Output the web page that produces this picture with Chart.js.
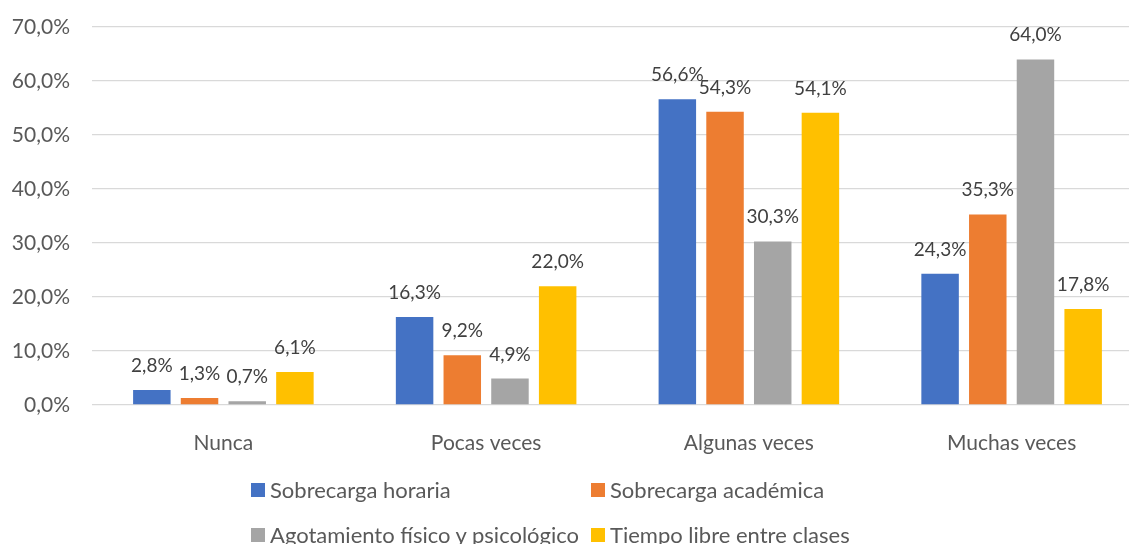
<!DOCTYPE html>
<html>
<head>
<meta charset="utf-8">
<script src="https://cdn.jsdelivr.net/npm/chart.js@4.4.1/dist/chart.umd.min.js"></script>
<style>
  html, body { margin: 0; padding: 0; background: #fff; overflow: hidden; }
  #wrap { position: relative; width: 1143px; height: 544px; }
  #legend { position: absolute; left: 0; top: 0; width: 1129px; height: 544px; pointer-events: none; }
  .li { position: absolute; display: flex; align-items: center; font-family: Lato, "Noto Sans", sans-serif; font-size: 22px; color: #595959; white-space: nowrap; }
  .li .sq { width: 14px; height: 14px; margin-right: 5px; flex: none; }
  .li span { line-height: 14px; }
</style>
</head>
<body>
<div id="wrap">
  <canvas id="c"></canvas>
  <div id="legend"></div>
</div>
<script>
const categories = ["Nunca", "Pocas veces", "Algunas veces", "Muchas veces"];
const seriesNames = ["Sobrecarga horaria", "Sobrecarga académica", "Agotamiento físico y psicológico", "Tiempo libre entre clases"];
const sobrecargaHoraria = [2.8, 16.3, 56.6, 24.3];
const sobrecargaAcademica = [1.3, 9.2, 54.3, 35.3];
const agotamiento = [0.7, 4.9, 30.3, 64.0];
const tiempoLibre = [6.1, 22.0, 54.1, 17.8];
const yTicks = [0, 10, 20, 30, 40, 50, 60, 70];
const colors = ["#4472C4", "#ED7D31", "#A5A5A5", "#FFC000"];

const fmt = v => v.toFixed(1).replace('.', ',') + '%';
const seriesValues = [sobrecargaHoraria, sobrecargaAcademica, agotamiento, tiempoLibre];

const labelPlugin = {
  id: 'valueLabels',
  afterDatasetsDraw(chart) {
    const ctx = chart.ctx;
    ctx.save();
    ctx.font = '19px Lato, "Noto Sans", sans-serif';
    ctx.fillStyle = '#404040';
    ctx.textAlign = 'center';
    ctx.textBaseline = 'alphabetic';
    chart.data.datasets.forEach((ds, i) => {
      const meta = chart.getDatasetMeta(i);
      meta.data.forEach((el, j) => {
        ctx.fillText(fmt(ds.data[j]), el.x, el.y - 18);
      });
    });
    ctx.restore();
  }
};

const chart = new Chart(document.getElementById('c'), {
  type: 'bar',
  data: {
    labels: categories,
    datasets: seriesNames.map((n, i) => ({
      label: n,
      data: seriesValues[i],
      backgroundColor: colors[i],
      borderWidth: 0,
      categoryPercentage: 0.726,
      barPercentage: 0.786
    }))
  },
  options: {
    responsive: true,
    maintainAspectRatio: false,
    animation: false,
    layout: { padding: { top: 27, left: 0, right: 0, bottom: 0 } },
    plugins: { legend: { display: false }, tooltip: { enabled: false } },
    scales: {
      x: {
        grid: { display: false },
        border: { display: false },
        ticks: { color: '#595959', font: { family: 'Lato, "Noto Sans", sans-serif', size: 21 }, padding: 18, maxRotation: 0 },
        afterFit: s => { s.height = 139; s.paddingLeft = 0; s.paddingRight = 0; }
      },
      y: {
        min: 0, max: 70,
        afterBuildTicks: s => { s.ticks = yTicks.map(v => ({ value: v })); },
        grid: { color: '#D9D9D9', lineWidth: 1.3, drawTicks: false },
        border: { display: false },
        ticks: { color: '#595959', font: { family: 'Lato, "Noto Sans", sans-serif', size: 21 }, padding: 22, callback: v => fmt(v) },
        afterFit: s => { s.width = 92; s.paddingTop = 0; s.paddingBottom = 0; }
      }
    }
  },
  plugins: [labelPlugin]
});

// HTML legend in two aligned columns
const legend = document.getElementById('legend');
const pos = [[251, 483], [591, 483], [251, 528], [591, 528]];
chart.data.datasets.forEach((ds, i) => {
  const d = document.createElement('div');
  d.className = 'li';
  d.style.left = pos[i][0] + 'px';
  d.style.top = pos[i][1] + 'px';
  const sq = document.createElement('div');
  sq.className = 'sq';
  sq.style.background = ds.backgroundColor;
  const t = document.createElement('span');
  t.textContent = ds.label;
  d.appendChild(sq); d.appendChild(t);
  legend.appendChild(d);
});
</script>
</body>
</html>
